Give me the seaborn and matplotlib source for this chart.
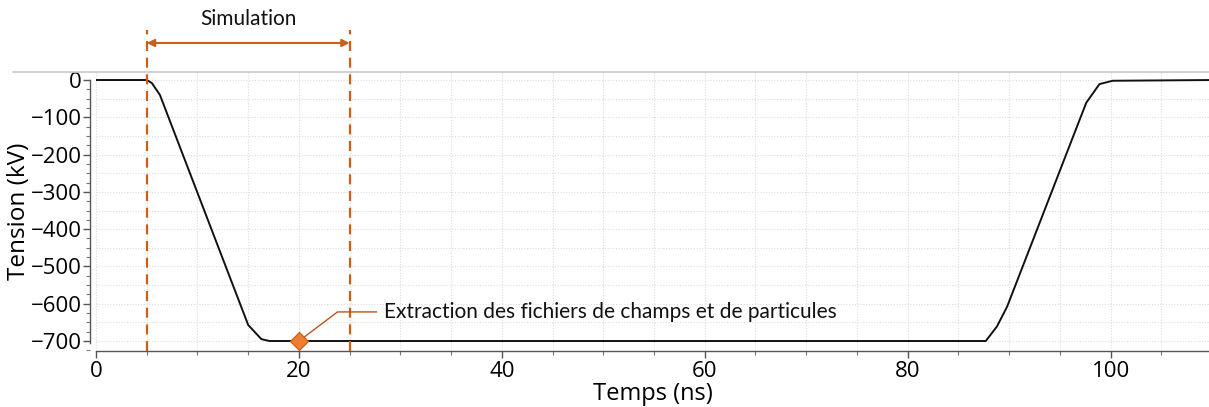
import matplotlib
matplotlib.use("Agg")
import matplotlib.pyplot as plt
from matplotlib.ticker import MultipleLocator
import seaborn as sns
import pandas as pd

# Pulse waveform: voltage (kV) versus time (ns)
temps = [0, 5.0, 5.5, 6.3, 15.0, 16.3, 17.1, 87.7, 88.8, 89.8, 97.6, 98.9, 100.2, 110]
tension = [0, 0, -8, -40, -657, -695, -700, -700, -661, -608, -61, -11, -2, 0]

# Simulation window and extraction instant
sim_debut, sim_fin = 5, 25
extraction_t, extraction_v = 20, -700

titre_sim = "Simulation"
titre_extraction = "Extraction des fichiers de champs et de particules"
label_x = "Temps (ns)"
label_y = "Tension (kV)"

sns.set_theme(style="white")
plt.rcParams["font.family"] = ["Open Sans", "DejaVu Sans"]

orange_fonce = "#c8601c"
orange = "#ed7d31"
grille = "#dcdcdc"

df = pd.DataFrame({"t": temps, "v": tension})

fig = plt.figure(figsize=(12.09, 4.07), dpi=100)
ax = fig.add_axes([96 / 1209, 1 - 351 / 407, 1 - 96 / 1209, 279 / 407])

sns.lineplot(data=df, x="t", y="v", ax=ax, color="#111111", linewidth=1.4)

ax.set_xlim(0, 109.7)
ax.set_ylim(-726.8, 21.5)

# Ticks and grid
ax.xaxis.set_major_locator(MultipleLocator(20))
ax.xaxis.set_minor_locator(MultipleLocator(5))
ax.yaxis.set_major_locator(MultipleLocator(100))
ax.yaxis.set_minor_locator(MultipleLocator(25))
ax.tick_params(axis="both", which="major", labelsize=16, length=5, width=1,
               color="#555555", labelcolor="black", direction="out", pad=2)
ax.tick_params(axis="both", which="minor", length=3, width=0.8, color="#777777",
               direction="out")
ax.tick_params(axis="x", which="both", bottom=True)
ax.tick_params(axis="y", which="both", left=True)
ax.tick_params(axis="y", which="major", pad=1)

for xv in range(0, 111, 5):
    ax.axvline(xv, color=grille, linewidth=0.8, linestyle=(0, (1, 1.5)), zorder=0)
for yv in range(0, -751, -50):
    ax.axhline(yv, color=grille, linewidth=0.8, linestyle=(0, (1, 1.5)), zorder=0)

for side in ["top", "right"]:
    ax.spines[side].set_visible(False)
ax.spines["left"].set_position(("outward", 4))
ax.spines["left"].set_bounds(-706, 0)
ax.spines["left"].set_color("#555555")
ax.spines["bottom"].set_color("#555555")
ax.spines["left"].set_linewidth(1)
ax.spines["bottom"].set_linewidth(1)

ax.set_xlabel(label_x, fontsize=17, labelpad=0, color="black")
ax.set_ylabel(label_y, fontsize=17.5, labelpad=0, color="black")

# Separator line across the top of the plot area
ax.axhline(21.5, xmin=-0.075, xmax=1, color="#c8c8c8", linewidth=1.2,
           clip_on=False, zorder=1)

# Simulation window: dashed bounds and double arrow
for xv in (sim_debut, sim_fin):
    ax.axvline(xv, ymin=0, ymax=1.15, color=orange_fonce, linewidth=1.6,
               linestyle=(0, (4.5, 3)), clip_on=False, zorder=3)

ax.annotate("", xy=(sim_fin, 1.104), xytext=(sim_debut, 1.104),
            xycoords=("data", "axes fraction"),
            textcoords=("data", "axes fraction"),
            arrowprops=dict(arrowstyle="<|-|>", color=orange_fonce, lw=1.5,
                            mutation_scale=11, shrinkA=0, shrinkB=0),
            annotation_clip=False)
ax.text((sim_debut + sim_fin) / 2, 1.19, titre_sim, transform=ax.get_xaxis_transform(),
        ha="center", va="center", fontsize=15, family=["Lato", "DejaVu Sans"],
        color="#111111")

# Extraction point and its callout
sns.scatterplot(x=[extraction_t], y=[extraction_v], ax=ax, marker="D", s=85,
                color=orange, edgecolor="#c65a16", linewidth=0.8, zorder=5)
ax.annotate(titre_extraction, xy=(extraction_t, extraction_v),
            xytext=(28.4, -622), ha="left", va="center", fontsize=15,
            family=["Lato", "DejaVu Sans"], color="#111111",
            arrowprops=dict(arrowstyle="-", color="#b5581c", lw=1.0,
                            connectionstyle="angle,angleA=0,angleB=37,rad=0",
                            relpos=(0, 0.5), shrinkA=3, shrinkB=3))

fig.savefig("out.png", dpi=100)
